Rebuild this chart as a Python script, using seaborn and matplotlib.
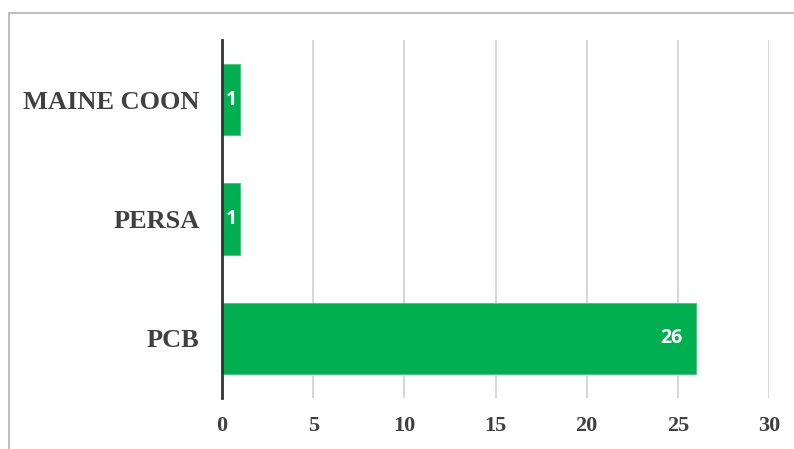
import matplotlib
matplotlib.use("Agg")
import matplotlib.pyplot as plt
import seaborn as sns
import pandas as pd
from matplotlib.patches import Rectangle

categories = ["MAINE COON", "PERSA", "PCB"]
values = [1, 1, 26]
xticks = [0, 5, 10, 15, 20, 25, 30]

df = pd.DataFrame({"breed": categories, "count": values})

sns.set_theme(style="white")
plt.rcParams['font.family'] = ['DejaVu Sans']

fig = plt.figure(figsize=(7.94, 4.49), dpi=100)
ax = fig.add_axes([222/794, 1-398/449, (769-222)/794, (398-40)/449])

sns.barplot(data=df, y="breed", x="count", orient="h", color="#00B050",
            saturation=1, width=0.6, ax=ax, edgecolor="#3FC67A", linewidth=0.6)

ax.set_xlim(0, 30)
ax.set_ylim(2.5, -0.5)
ax.set_xticks(xticks)
ax.set_xticklabels([str(t) for t in xticks], family="Liberation Serif",
                   fontweight="bold", fontsize=16, color="#404040")
ax.set_yticks(range(len(categories)))
ax.set_yticklabels(categories, family="Liberation Serif", fontweight="bold",
                   fontsize=19, color="#404040")
ax.tick_params(axis="both", length=0)
ax.tick_params(axis="x", pad=13)
ax.tick_params(axis="y", pad=16)
ax.set_xlabel("")
ax.set_ylabel("")
ax.xaxis.grid(True, color="#D0D0D0", linewidth=1.2)
ax.set_axisbelow(True)
for s in ["top", "right", "bottom"]:
    ax.spines[s].set_visible(False)
ax.spines["left"].set_color("#333333")
ax.spines["left"].set_linewidth(2)
ax.spines["left"].set_zorder(5)

for i, v in enumerate(values):
    if v >= 5:
        ax.text(v - 0.75, i, str(v), ha="right", va="center", color="white",
                fontweight="bold", fontsize=14, family="Open Sans")
    else:
        ax.text(v / 2 + 0.0, i, str(v), ha="center", va="center", color="white",
                fontweight="bold", fontsize=14, family="Open Sans")

fig.patches.append(Rectangle((9/794, -0.1), 1.2, 1 - 13/449 + 0.1,
                             transform=fig.transFigure, fill=False,
                             edgecolor="#BFBFBF", linewidth=1.5))

fig.savefig("out.png", dpi=100)
